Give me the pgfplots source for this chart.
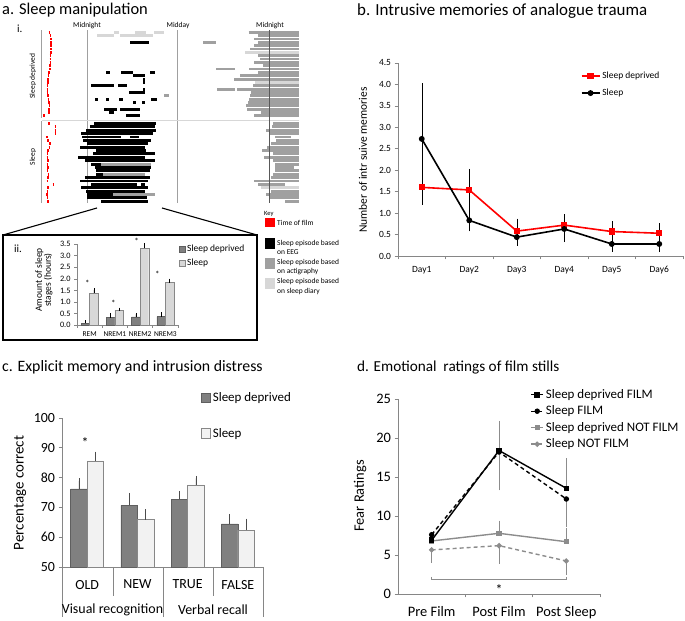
\documentclass[border=0pt]{standalone}
\usepackage{fontspec}
\setmainfont{Carlito}
\usepackage{pgfplots}
\pgfplotsset{compat=1.18}
\definecolor{sdbar}{RGB}{128,128,128}
\definecolor{sdedge}{RGB}{95,95,95}
\definecolor{slbar}{RGB}{242,242,242}
\definecolor{sledge}{RGB}{135,135,135}
\definecolor{inlight}{RGB}{216,216,216}
\definecolor{rgray}{RGB}{160,160,160}
\definecolor{rlight}{RGB}{215,215,215}
\definecolor{axgray}{RGB}{134,134,134}
\definecolor{dgray}{RGB}{140,140,140}
\newcommand{\fs}[1]{\fontsize{#1}{#1}\selectfont}
\pgfplotsset{
  every axis/.append style={/pgf/number format/assume math mode=true, scale only axis, anchor=south west,
    tick align=outside, axis line style={-,axgray,line width=0.7bp}, tick style={axgray,line width=0.7bp}, major tick length=3.5bp},
}
\begin{document}
\begin{tikzpicture}[x=1bp,y=1bp]
\useasboundingbox (0,0) rectangle (685,621);
% ---------- titles
\node[anchor=base west, inner sep=0pt, font=\fs{16.5}] at (2,606) {a. Sleep manipulation};
\node[anchor=base west, inner sep=0pt, font=\fs{17}] at (357,605) {b. Intrusive memories of analogue trauma};
\node[anchor=base west, inner sep=0pt, font=\fs{15.9}] at (2,249) {c. Explicit memory and intrusion distress};
\node[anchor=base west, inner sep=0pt, font=\fs{15.3}] at (357,249) {d. Emotional~ ratings of film stills};
% ---------- panel a.i labels
\node[anchor=base west, inner sep=0pt, font=\fs{11}] at (17,588) {i.};
\node[anchor=base, inner sep=0pt, font=\fs{7.5}] at (87,593) {Midnight};
\node[anchor=base, inner sep=0pt, font=\fs{7.5}] at (178,593) {Midday};
\node[anchor=base, inner sep=0pt, font=\fs{7.5}] at (270,593) {Midnight};
\node[rotate=90, inner sep=0pt, font=\fs{7.5}] at (33,545) {Sleep deprived};
\node[rotate=90, inner sep=0pt, font=\fs{7.5}] at (33,464) {Sleep};
% ---------- raster
\begin{axis}[at={(38bp,413bp)}, width=265bp, height=180bp, xmin=38, xmax=303, ymin=28, ymax=208, y dir=reverse, hide axis, clip=false, unbounded coords=jump]
\addplot[rgray, line width=0.8bp] coordinates {(41.5,30.5)(41.5,118)(nan,nan)(41.5,121.5)(41.5,203)(nan,nan)(87,30.5)(87,203)(nan,nan)(177.5,30.5)(177.5,203)};
\addplot[rlight, line width=0.6bp] coordinates {(41.5,120)(299,120)};
% red: time of film
\addplot[red, line width=2.9bp] coordinates {
(48.5,32.3)(50.3,32.3)(nan,nan)(49.5,35.6)(51.3,35.6)(nan,nan)(50,39.0)(51.8,39.0)(nan,nan)(50,42.3)(51.8,42.3)(nan,nan)
(50,45.7)(51.8,45.7)(nan,nan)(50,49.0)(51.8,49.0)(nan,nan)(50,52.3)(51.8,52.3)(nan,nan)(49.5,55.7)(51.3,55.7)(nan,nan)
(49.5,59.0)(51.3,59.0)(nan,nan)(49.5,62.4)(51.3,62.4)(nan,nan)(49,65.7)(50.8,65.7)(nan,nan)(49,69.0)(50.8,69.0)(nan,nan)
(48,72.4)(49.8,72.4)(nan,nan)(47.5,75.7)(49.3,75.7)(nan,nan)(47,79.1)(48.8,79.1)(nan,nan)(47,82.4)(48.8,82.4)(nan,nan)
(46.5,85.7)(48.3,85.7)(nan,nan)(46.5,89.1)(48.3,89.1)(nan,nan)(46.5,92.4)(48.3,92.4)(nan,nan)(47,95.8)(48.8,95.8)(nan,nan)
(47.5,99.1)(49.3,99.1)(nan,nan)(48,102.4)(49.8,102.4)(nan,nan)(48.5,105.8)(50.3,105.8)(nan,nan)(48,109.1)(49.8,109.1)(nan,nan)
(48,112.5)(49.8,112.5)(nan,nan)(43,115.8)(44.8,115.8)(nan,nan)
(48,123.5)(49.8,123.5)(nan,nan)(54.5,126.9)(56.3,126.9)(nan,nan)(54.5,130.3)(56.3,130.3)(nan,nan)(54.5,133.6)(56.3,133.6)(nan,nan)
(46,137.0)(47.8,137.0)(nan,nan)(47,140.4)(48.8,140.4)(nan,nan)(49,143.8)(50.8,143.8)(nan,nan)(48.5,147.2)(50.3,147.2)(nan,nan)
(47,150.5)(48.8,150.5)(nan,nan)(46.5,153.9)(48.3,153.9)(nan,nan)(46.5,157.3)(48.3,157.3)(nan,nan)(47,160.7)(48.8,160.7)(nan,nan)
(46.5,164.1)(48.3,164.1)(nan,nan)(47,167.4)(48.8,167.4)(nan,nan)(46.5,170.8)(48.3,170.8)(nan,nan)(47.5,174.2)(49.3,174.2)(nan,nan)
(47,177.6)(48.8,177.6)(nan,nan)(46.5,181.0)(48.3,181.0)(nan,nan)(52.5,184.3)(54.3,184.3)(nan,nan)(47,187.7)(48.8,187.7)(nan,nan)
(46.5,191.1)(48.3,191.1)(nan,nan)(46,194.5)(47.8,194.5)(nan,nan)(46.5,197.9)(48.3,197.9)(nan,nan)(47,201.2)(48.8,201.2)};
% black: EEG
\addplot[black, line width=2.9bp] coordinates {
(130,42.3)(149,42.3)(nan,nan)
(106,72.4)(110,72.4)(nan,nan)(121,72.4)(133,72.4)(nan,nan)(150,72.4)(155,72.4)(nan,nan)
(133,75.7)(145,75.7)(nan,nan)(143,79.1)(144.5,79.1)(nan,nan)(143,82.4)(144.5,82.4)(nan,nan)
(91,85.7)(114,85.7)(nan,nan)(118,85.7)(127,85.7)(nan,nan)(143,89.1)(145,89.1)(nan,nan)(129,92.4)(145,92.4)(nan,nan)
(95,99.1)(97.5,99.1)(nan,nan)(106,99.1)(109,99.1)(nan,nan)(119,99.1)(123,99.1)(nan,nan)(151,99.1)(157,99.1)(nan,nan)
(133,102.4)(135.5,102.4)(nan,nan)(142,102.4)(144.5,102.4)(nan,nan)
(104,109.1)(117,109.1)(nan,nan)(120,109.1)(140,109.1)(nan,nan)(109,112.5)(114,112.5)(nan,nan)(126,115.8)(140,115.8)(nan,nan)
(94,123.5)(156,123.5)(nan,nan)(90,126.9)(155,126.9)(nan,nan)(86,130.3)(156,130.3)(nan,nan)(81,133.6)(153,133.6)(nan,nan)
(82,137.0)(121,137.0)(nan,nan)(130,137.0)(139,137.0)(nan,nan)(83,140.4)(151,140.4)(nan,nan)(87,143.8)(148,143.8)(nan,nan)
(80,147.2)(145,147.2)(nan,nan)(96,150.5)(146,150.5)(nan,nan)(93,153.9)(155,153.9)(nan,nan)(78,157.3)(145,157.3)(nan,nan)
(85,160.7)(155,160.7)(nan,nan)(91,164.1)(101,164.1)(nan,nan)(95,167.4)(151,167.4)(nan,nan)(96,170.8)(150,170.8)(nan,nan)
(96,174.2)(103,174.2)(nan,nan)(85,177.6)(150,177.6)(nan,nan)(80,181.0)(148,181.0)(nan,nan)
(91,184.3)(137,184.3)(nan,nan)(141,184.3)(145,184.3)(nan,nan)(81,187.7)(148,187.7)(nan,nan)(86,191.1)(145,191.1)(nan,nan)
(87,194.5)(113,194.5)(nan,nan)(87,197.9)(147,197.9)(nan,nan)(101,201.2)(148,201.2)};
% grey: actigraphy
\addplot[rgray, line width=2.9bp] coordinates {
(164,95.8)(169,95.8)(nan,nan)(101,164.1)(151,164.1)(nan,nan)(103,174.2)(145,174.2)(nan,nan)(113,194.5)(155,194.5)(nan,nan)
(248.7,32.3)(299,32.3)(nan,nan)(258,35.6)(299,35.6)(nan,nan)(254,39.0)(299,39.0)(nan,nan)(258,42.3)(299,42.3)(nan,nan)
(203,42.3)(216,42.3)(nan,nan)(254,45.7)(299,45.7)(nan,nan)(250,49.0)(299,49.0)(nan,nan)(258,55.7)(299,55.7)(nan,nan)
(260,59.0)(299,59.0)(nan,nan)(254,62.4)(299,62.4)(nan,nan)(263,65.7)(299,65.7)(nan,nan)(249,69.0)(299,69.0)(nan,nan)
(216,69.0)(235,69.0)(nan,nan)(258,72.4)(299,72.4)(nan,nan)(240,75.7)(299,75.7)(nan,nan)(234,79.1)(299,79.1)(nan,nan)
(253,85.7)(299,85.7)(nan,nan)(237,89.1)(299,89.1)(nan,nan)(217,89.1)(235,89.1)(nan,nan)(251,92.4)(299,92.4)(nan,nan)
(250,95.8)(299,95.8)(nan,nan)(249,99.1)(299,99.1)(nan,nan)(248,102.4)(299,102.4)(nan,nan)(246,105.8)(299,105.8)(nan,nan)
(247,109.1)(299,109.1)(nan,nan)(261,112.5)(299,112.5)(nan,nan)(254,115.8)(299,115.8)(nan,nan)
(273,123.5)(299,123.5)(nan,nan)(272,126.9)(299,126.9)(nan,nan)(266,130.3)(299,130.3)(nan,nan)(270,133.6)(299,133.6)(nan,nan)
(275,137.0)(291,137.0)(nan,nan)(276,140.4)(299,140.4)(nan,nan)(271,143.8)(299,143.8)(nan,nan)(267,147.2)(299,147.2)(nan,nan)
(262,150.5)(299,150.5)(nan,nan)(273,153.9)(299,153.9)(nan,nan)(264,157.3)(299,157.3)(nan,nan)(273,160.7)(299,160.7)(nan,nan)
(275,164.1)(299,164.1)(nan,nan)(275,167.4)(294,167.4)(nan,nan)(275,170.8)(299,170.8)(nan,nan)(273,174.2)(299,174.2)(nan,nan)
(271,177.6)(299,177.6)(nan,nan)(254,181.0)(299,181.0)(nan,nan)(258,184.3)(285,184.3)(nan,nan)
(271,191.1)(299,191.1)(nan,nan)(266,194.5)(299,194.5)(nan,nan)(270,197.9)(299,197.9)(nan,nan)(285,201.2)(299,201.2)};
% light grey: sleep diary
\addplot[rlight, line width=2.9bp] coordinates {
(114,32.3)(119,32.3)(nan,nan)(135,32.3)(146,32.3)(nan,nan)(154,32.3)(164,32.3)(nan,nan)
(97,35.6)(114,35.6)(nan,nan)(120,35.6)(153,35.6)(nan,nan)
(245,52.3)(299,52.3)(nan,nan)(255,82.4)(299,82.4)(nan,nan)(261,187.7)(299,187.7)};
\addplot[black!65, line width=0.8bp] coordinates {(269.7,30.5)(269.7,203)};
\end{axis}
% ---------- zoom lines and inset box
\draw[line width=1.1bp] (97,413) -- (3,386);
\draw[line width=1.1bp] (162,413) -- (257,386);
\draw[line width=1.3bp] (3,281) rectangle (257,386);
\node[anchor=base west, inner sep=0pt, font=\fs{11}] at (14,368) {ii.};
\node[rotate=90, align=center, inner sep=0pt, font=\fs{9.5}] at (44,341) {Amount of sleep\\[-0.5bp]stages (hours)};
% ---------- inset a.ii
\begin{axis}[at={(77bp,296bp)}, width=101bp, height=80.7bp, xmin=-0.5, xmax=3.5, ymin=0, ymax=3.5,
  axis x line*=bottom, axis y line*=left, ybar=0pt, bar width=0.34, clip=false,
  xtick={-0.5,0.5,1.5,2.5,3.5}, xticklabels={}, major tick length=3bp,
  extra x ticks={0,1,2,3}, extra x tick labels={REM,NREM1,NREM2,NREM3}, extra x tick style={major tick length=0pt},
  x tick label style={font=\fs{7.5}, yshift=-3bp}, y tick label style={font=\fs{8.3}},
  ytick={0,0.5,1,1.5,2,2.5,3,3.5}, yticklabel style={/pgf/number format/.cd, fixed, fixed zerofill, precision=1},
  legend style={at={(1.01,1.02)}, anchor=north west, draw=none, fill=none, font=\fs{9.5}, row sep=2bp, inner sep=0pt},
  legend cell align=left,
  legend image code/.code={\draw[#1] (0bp,-2.8bp) rectangle (5.6bp,2.8bp);}]
\addplot[fill=sdbar, draw=sdedge, line width=0.4bp, error bars/.cd, y dir=plus, y explicit, error bar style={black,line width=0.5bp}, error mark options={black, mark size=1.5bp, line width=0.5bp}] table[x=x,y=y,y error=e] {
x y e
0 0.07 0.07
1 0.32 0.14
2 0.35 0.11
3 0.36 0.12
};
\addlegendentry{Sleep deprived}
\addplot[fill=inlight, draw=sledge, line width=0.4bp, error bars/.cd, y dir=plus, y explicit, error bar style={black,line width=0.5bp}, error mark options={black, mark size=1.5bp, line width=0.5bp}] table[x=x,y=y,y error=e] {
x y e
0 1.37 0.15
1 0.65 0.04
2 3.33 0.17
3 1.84 0.11
};
\addlegendentry{Sleep}
\node[font=\fs{9}, inner sep=0pt] at (axis cs:-0.09,1.80) {*};
\node[font=\fs{9}, inner sep=0pt] at (axis cs:0.94,0.93) {*};
\node[font=\fs{9}, inner sep=0pt] at (axis cs:1.86,3.64) {*};
\node[font=\fs{9}, inner sep=0pt] at (axis cs:2.68,2.19) {*};
\end{axis}
% ---------- key
\node[anchor=base west, inner sep=0pt, font=\fs{6.5}] at (264,405) {Key};
\fill[red] (265,394) rectangle (274.5,402.5);
\node[anchor=base west, inner sep=0pt, font=\fs{7.5}] at (277,395.5) {Time of film};
\fill[black] (265,372) rectangle (274.5,383);
\node[anchor=base west, inner sep=0pt, font=\fs{7.5}] at (277,375.5) {Sleep episode based};
\node[anchor=base west, inner sep=0pt, font=\fs{7.5}] at (277,366) {on EEG};
\fill[rgray] (265,352) rectangle (274.5,363);
\node[anchor=base west, inner sep=0pt, font=\fs{7.5}] at (277,356) {Sleep episode based};
\node[anchor=base west, inner sep=0pt, font=\fs{7.5}] at (277,347) {on actigraphy};
\fill[rlight] (265,332) rectangle (274.5,343);
\node[anchor=base west, inner sep=0pt, font=\fs{7.5}] at (277,337) {Sleep episode based};
\node[anchor=base west, inner sep=0pt, font=\fs{7.5}] at (277,327.5) {on sleep diary};
% ---------- panel b
\node[rotate=90, inner sep=0pt, font=\fs{11.5}] at (363,461) {Number of intr suive memories};
\begin{axis}[at={(398bp,365bp)}, width=285bp, height=193bp, xmin=0.5, xmax=6.5, ymin=0, ymax=4.5,
  axis x line*=bottom, axis y line*=left, clip=false,
  xtick={0.5,1.5,2.5,3.5,4.5,5.5,6.5}, xticklabels={},
  extra x ticks={1,2,3,4,5,6}, extra x tick labels={Day1,Day2,Day3,Day4,Day5,Day6}, extra x tick style={major tick length=0pt},
  ytick={0,0.5,1,1.5,2,2.5,3,3.5,4,4.5}, yticklabel style={/pgf/number format/.cd, fixed, fixed zerofill, precision=1},
  tick label style={font=\fs{9.5}}, x tick label style={yshift=-7bp},
  legend style={at={(0.63,0.975)}, anchor=north west, draw=none, fill=none, font=\fs{9.5}, row sep=5bp},
  legend cell align=left,
  legend image code/.code={\draw[mark repeat=2, mark phase=2, #1] plot coordinates {(0bp,0bp)(9bp,0bp)(18bp,0bp)};}]
\addplot[red, line width=1.6bp, mark=square*, mark size=2.3bp, error bars/.cd, y dir=both, y explicit, error bar style={black,line width=0.5bp}, error mark options={black, mark size=2.5bp, line width=0.5bp}] table[x=x,y=y,y error=e] {
x y e
1 1.60 0.35
2 1.54 0.43
3 0.58 0.23
4 0.72 0.19
5 0.57 0.18
6 0.53 0.18
};
\addlegendentry{Sleep deprived}
\addplot[black, line width=1.6bp, mark=*, mark size=2.1bp, error bars/.cd, y dir=both, y explicit, error bar style={black,line width=0.5bp}, error mark options={black, mark size=2.5bp, line width=0.5bp}] table[x=x,y=y,y error=e] {
x y e
1 2.73 1.24
2 0.83 0.20
3 0.44 0.14
4 0.63 0.25
5 0.28 0.12
6 0.28 0.13
};
\addlegendentry{Sleep}
\end{axis}
% ---------- panel c
\node[rotate=90, inner sep=0pt, font=\fs{15}] at (20,128) {Percentage correct};
\begin{axis}[at={(62bp,54bp)}, width=201bp, height=149bp, xmin=-0.5, xmax=3.5, ymin=50, ymax=100,
  axis x line*=bottom, axis y line*=left, ybar=0pt, bar width=0.33, clip=false,
  xtick={0,1,2,3}, xticklabels={OLD,NEW,TRUE,FALSE}, xtick style={draw=none},
  ytick={50,60,70,80,90,100}, tick label style={font=\fs{14}}, x tick label style={yshift=-6bp},
  legend style={at={(0.69,1.185)}, anchor=north west, draw=none, fill=none, font=\fs{13}, row sep=21bp, inner sep=0pt},
  legend cell align=left,
  legend image code/.code={\draw[#1] (0bp,-4.5bp) rectangle (9.5bp,5bp);}]
\addplot[fill=sdbar, draw=sdedge, line width=0.5bp, error bars/.cd, y dir=plus, y explicit, error bar style={black!70,line width=0.6bp}, error mark options={black!70, mark size=2.5bp, line width=0.6bp}] table[x=x,y=y,y error=e] {
x y e
0 76.2 2.7
1 70.7 3.3
2 72.7 2.0
3 64.5 2.5
};
\addlegendentry{Sleep deprived}
\addplot[fill=slbar, draw=sledge, line width=0.5bp, error bars/.cd, y dir=plus, y explicit, error bar style={black!70,line width=0.6bp}, error mark options={black!70, mark size=2.5bp, line width=0.6bp}] table[x=x,y=y,y error=e] {
x y e
0 85.6 2.3
1 65.9 2.7
2 77.6 2.1
3 62.4 3.0
};
\addlegendentry{Sleep}
\node[font=\fs{14}, inner sep=0pt] at (axis cs:-0.04,91.8) {*};
\end{axis}
\draw[axgray, line width=0.7bp] (62,54) -- (62,4) (113,54) -- (113,25) (163,54) -- (163,4) (213,54) -- (213,25) (263,54) -- (263,4);
\node[font=\fs{14}, inner sep=0pt] at (112.5,11) {Visual recognition};
\node[font=\fs{14}, inner sep=0pt] at (213,11) {Verbal recall};
% ---------- panel d
\node[rotate=90, inner sep=0pt, font=\fs{14.5}] at (360,125) {Fear Ratings};
\begin{axis}[at={(398bp,27bp)}, width=202bp, height=195bp, xmin=0.5, xmax=3.5, ymin=0, ymax=25,
  axis x line*=bottom, axis y line*=left, clip=false,
  xtick={1.5,2.5,3.5}, xticklabels={},
  extra x ticks={1,2,3}, extra x tick labels={Pre Film,Post Film,Post Sleep}, extra x tick style={major tick length=0pt},
  ytick={0,5,10,15,20,25}, tick label style={font=\fs{14.5}}, x tick label style={yshift=-9bp},
  legend style={at={(0.655,1.06)}, anchor=north west, draw=none, fill=none, font=\fs{13}, row sep=2bp, inner sep=0pt},
  legend cell align=left, reverse legend,
  legend image code/.code={\draw[mark repeat=2, mark phase=2, #1] plot coordinates {(0bp,0bp)(6bp,0bp)(12bp,0bp)};}]
\addplot[dgray, line width=1.4bp, dash pattern=on 4bp off 3bp, mark=*, mark size=1.9bp, mark options={solid}, error bars/.cd, y dir=minus, y explicit, error bar style={dgray,line width=1bp,solid}, error mark options={dgray, mark size=2bp, line width=1bp,solid}] table[x=x,y=y,y error=e] {
x y e
1 5.65 1.37
2 6.20 2.06
3 4.23 1.50
};
\addlegendentry{Sleep NOT FILM}
\addplot[dgray, line width=1.4bp, mark=square*, mark size=1.9bp, error bars/.cd, y dir=plus, y explicit, error bar style={dgray,line width=1bp}, error mark options={dgray, mark size=2bp, line width=1bp}] table[x=x,y=y,y error=e] {
x y e
1 6.80 0.6
2 7.78 1.36
3 6.70 1.50
};
\addlegendentry{Sleep deprived NOT FILM}
\addplot[black, line width=1.4bp, dash pattern=on 4bp off 3bp, mark=*, mark size=2bp, mark options={solid}, error bars/.cd, y dir=minus, y explicit, error bar style={dgray,line width=1bp,solid}, error mark options={dgray, mark size=2bp, line width=1bp,solid}] table[x=x,y=y,y error=e] {
x y e
1 7.60 0.5
2 18.20 4.65
3 12.18 3.33
};
\addlegendentry{Sleep FILM}
\addplot[black, line width=1.4bp, mark=square*, mark size=2.1bp, error bars/.cd, y dir=plus, y explicit, error bar style={dgray,line width=1bp}, error mark options={dgray, mark size=2bp, line width=1bp}] table[x=x,y=y,y error=e] {
x y e
1 6.90 0.5
2 18.40 3.55
3 13.55 3.60
};
\addlegendentry{Sleep deprived FILM}
\draw[dgray, line width=0.9bp] (axis cs:1,2.2) -- (axis cs:1,1.88) -- (axis cs:3,1.88) -- (axis cs:3,2.2);
\node[font=\fs{14}, inner sep=0pt] at (axis cs:2,0.6) {*};
\end{axis}
\end{tikzpicture}
\end{document}
